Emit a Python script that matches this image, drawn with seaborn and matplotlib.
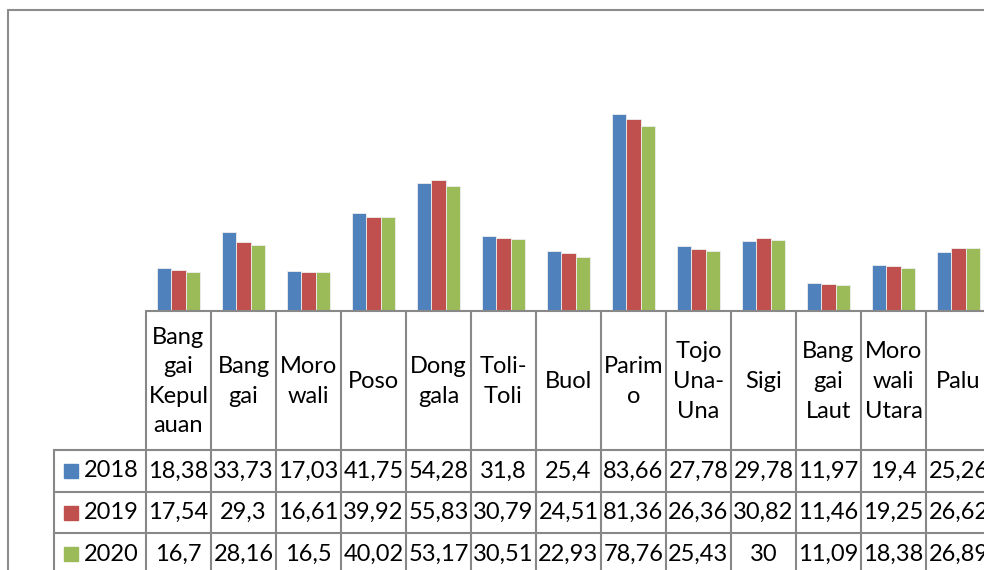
import matplotlib
matplotlib.use("Agg")
import matplotlib.pyplot as plt
from matplotlib.lines import Line2D
import seaborn as sns
import pandas as pd

# Data
regions = ["Bang\ngai\nKepul\nauan", "Bang\ngai", "Moro\nwali", "Poso", "Dong\ngala",
           "Toli-\nToli", "Buol", "Parim\no", "Tojo\nUna-\nUna", "Sigi",
           "Bang\ngai\nLaut", "Moro\nwali\nUtara", "Palu"]
years = ["2018", "2019", "2020"]
v2018 = [18.38, 33.73, 17.03, 41.75, 54.28, 31.8, 25.4, 83.66, 27.78, 29.78, 11.97, 19.4, 25.26]
v2019 = [17.54, 29.3, 16.61, 39.92, 55.83, 30.79, 24.51, 81.36, 26.36, 30.82, 11.46, 19.25, 26.62]
v2020 = [16.7, 28.16, 16.5, 40.02, 53.17, 30.51, 22.93, 78.76, 25.43, 30, 11.09, 18.38, 26.89]
colors = ["#4F81BD", "#C0504D", "#9BBB59"]

series = {"2018": v2018, "2019": v2019, "2020": v2020}
rows = []
for y in years:
    for r, v in zip(regions, series[y]):
        rows.append({"region": r, "year": y, "value": v})
df = pd.DataFrame(rows)

sns.set_theme(style="white")
plt.rcParams["font.family"] = ["Lato", "DejaVu Sans"]

W, H = 984, 570
fig = plt.figure(figsize=(W / 100, H / 100), dpi=100)

# pixel layout (from top-left)
x0, x1 = 146, 991          # category area
base, top = 311, 75.5      # bar baseline / y=100
lab_left = 54
row_edges = [311, 450, 491.7, 533.3, 575]

ax = fig.add_axes([x0 / W, 1 - base / H, (x1 - x0) / W, (base - top) / H])
sns.barplot(data=df, x="region", y="value", hue="year", order=regions, hue_order=years,
            palette=colors, saturation=1, width=0.667, edgecolor="#eeeeee",
            linewidth=0.6, legend=False, ax=ax)
ax.set_xlim(-0.5, len(regions) - 0.5)
ax.set_ylim(0, 100)
ax.axis("off")

# data table under the bars
n = len(regions)
left_x = -0.5 - (x0 - lab_left) / 65
tax = fig.add_axes([lab_left / W, 1 - row_edges[-1] / H, (x1 - lab_left) / W,
                    (row_edges[-1] - row_edges[0]) / H])
tax.set_xlim(left_x, n - 0.5)
tax.set_ylim(row_edges[-1], row_edges[0])
tax.axis("off")

lc = "#888888"
lw = 1.5
tax.plot([-0.5, n - 0.5], [row_edges[0]] * 2, color=lc, lw=lw, clip_on=False)
for ye in row_edges[1:]:
    tax.plot([left_x, n - 0.5], [ye, ye], color=lc, lw=lw, clip_on=False)
for i in range(n + 1):
    tax.plot([i - 0.5] * 2, [row_edges[0], row_edges[-1]], color=lc, lw=lw, clip_on=False)
tax.plot([left_x] * 2, [row_edges[1], row_edges[-1]], color=lc, lw=lw, clip_on=False)

fs = 17
for i, r in enumerate(regions):
    tax.text(i, (row_edges[0] + row_edges[1]) / 2 + 1, r, ha="center", va="center",
             fontsize=fs, linespacing=1.5, color="black")

for k, y in enumerate(years):
    yc = (row_edges[k + 1] + row_edges[k + 2]) / 2
    tax.plot(left_x + (70.5 - lab_left) / 65, yc, marker="s", ms=10.5,
             color=colors[k], mec=colors[k], clip_on=False)
    tax.text(left_x + (84 - lab_left) / 65, yc, y, ha="left", va="center",
             fontsize=fs, color="black")
    for i, v in enumerate(series[y]):
        tax.text(i, yc, f"{v:g}".replace(".", ","), ha="center", va="center",
                 fontsize=fs, color="black")

# outer chart border
fig.add_artist(Line2D([8 / W, 1], [1 - 10 / H] * 2, color="#8c8c8c", lw=1.5))
fig.add_artist(Line2D([8 / W] * 2, [1 - 10 / H, 0], color="#8c8c8c", lw=1.5))

fig.savefig("out.png", dpi=100)
